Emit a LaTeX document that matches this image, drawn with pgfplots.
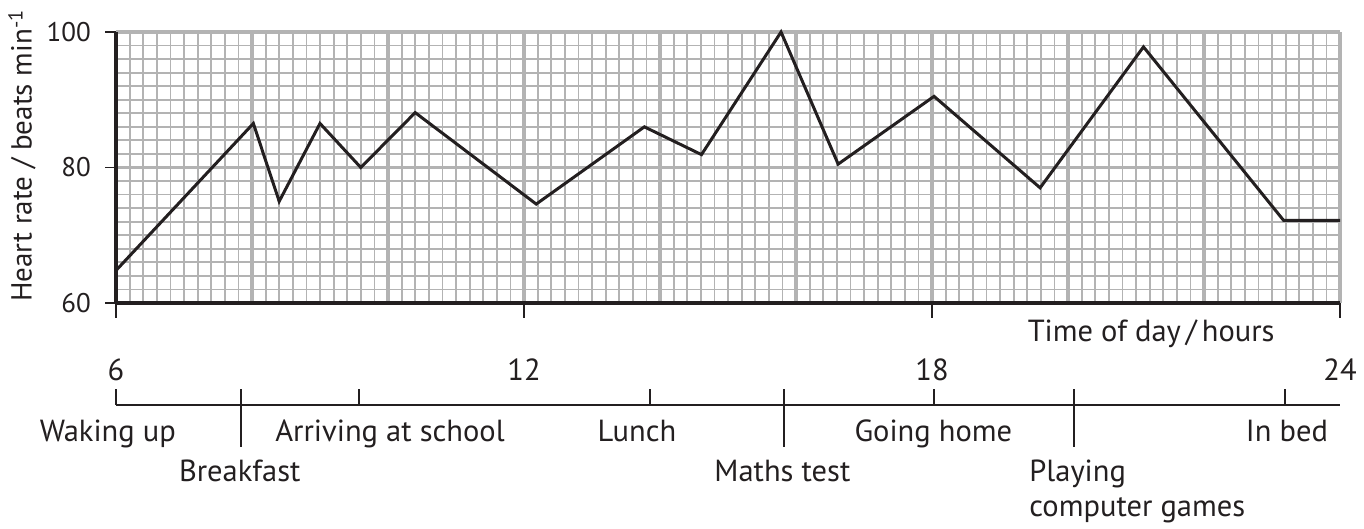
\documentclass[border=0pt]{standalone}
\usepackage{fontspec}
\setmainfont{PT Sans}
\usepackage{pgfplots}
\pgfplotsset{compat=1.18}
\definecolor{ink}{HTML}{231F20}
\definecolor{gridgray}{HTML}{B3B3B3}
\newcommand{\lab}{\fontsize{30.5}{36}\selectfont}
\begin{document}
\begin{tikzpicture}[x=1pt,y=1pt]
\useasboundingbox (0,0) rectangle (1364,529);
\begin{axis}[
  at={(116pt,226pt)}, anchor=south west,
  scale only axis, width=1224pt, height=271pt,
  xmin=6, xmax=24, ymin=60, ymax=100,
  clip=false,
  xtick={6,8,...,24}, xticklabels={},
  minor x tick num=9,
  ytick={60,80,100}, yticklabels={},
  minor y tick num=9,
  grid=both,
  major grid style={gridgray, line width=3.2pt},
  minor grid style={gridgray, line width=1.8pt},
  axis x line*=bottom, axis y line*=left,
  x axis line style={ink, line width=3.6pt},
  y axis line style={ink, line width=3.3pt},
  tick style={draw=none},
  minor tick style={draw=none},
]
\addplot[ink, line width=3pt, line join=miter] coordinates {
(6,64.8) (8.02,86.5) (8.4,75) (9.0,86.5) (9.6,80) (10.4,88.1)
(12.18,74.6) (13.77,86) (14.61,81.9) (15.78,100) (16.62,80.5)
(18.03,90.5) (19.59,77) (21.11,97.8) (23.17,72.2) (24,72.2)
};
% y ticks and labels
\pgfplotsinvokeforeach{60,80,100}{
  \draw[ink, line width=1.4pt] (axis cs:6,#1) -- (axis cs:5.838,#1);
  \node[anchor=east, text=ink, inner sep=0pt, font=\fontsize{27}{27}\selectfont] at (axis cs:5.632,#1) {#1};
}
% x ticks below axis
\pgfplotsinvokeforeach{6,12,18,24}{
  \draw[ink, line width=1.5pt] (axis cs:#1,60) -- (axis cs:#1,57.8);
  \node[anchor=base, text=ink, font=\lab] at (axis cs:#1,48.63) {#1};
}
% axis labels
\node[rotate=90, anchor=base, text=ink, font=\fontsize{29}{29}\selectfont, inner sep=0pt]
  at (axis cs:4.76,81.7) {Heart rate / beats min\textsuperscript{-1}};
\node[anchor=base east, text=ink, font=\lab, inner sep=0pt] at (axis cs:23.04,54.29) {Time of day\,/\,hours};
% timeline
\draw[ink, line width=2pt] (axis cs:6,44.95) -- (axis cs:24,44.95);
\pgfplotsinvokeforeach{6,9.57,13.85,18.03,23.19}{
  \draw[ink, line width=2pt] (axis cs:#1,44.95) -- (axis cs:#1,47.3);
}
\pgfplotsinvokeforeach{7.84,15.82,20.09}{
  \draw[ink, line width=2pt] (axis cs:#1,47.3) -- (axis cs:#1,38.8);
}
\node[anchor=base, text=ink, font=\lab] at (axis cs:5.88,39.53) {Waking up};
\node[anchor=base, text=ink, font=\lab] at (axis cs:7.82,33.62) {Breakfast};
\node[anchor=base, text=ink, font=\lab] at (axis cs:10.03,39.53) {Arriving at school};
\node[anchor=base, text=ink, font=\lab] at (axis cs:13.66,39.53) {Lunch};
\node[anchor=base, text=ink, font=\lab] at (axis cs:15.80,33.62) {Maths test};
\node[anchor=base, text=ink, font=\lab] at (axis cs:18.02,39.53) {Going home};
\node[anchor=base west, text=ink, font=\lab, inner sep=0pt] at (axis cs:19.43,33.62) {Playing};
\node[anchor=base west, text=ink, font=\lab, inner sep=0pt] at (axis cs:19.43,28.45) {computer games};
\node[anchor=base, text=ink, font=\lab] at (axis cs:23.22,39.53) {In bed};
\end{axis}
\end{tikzpicture}
\end{document}
